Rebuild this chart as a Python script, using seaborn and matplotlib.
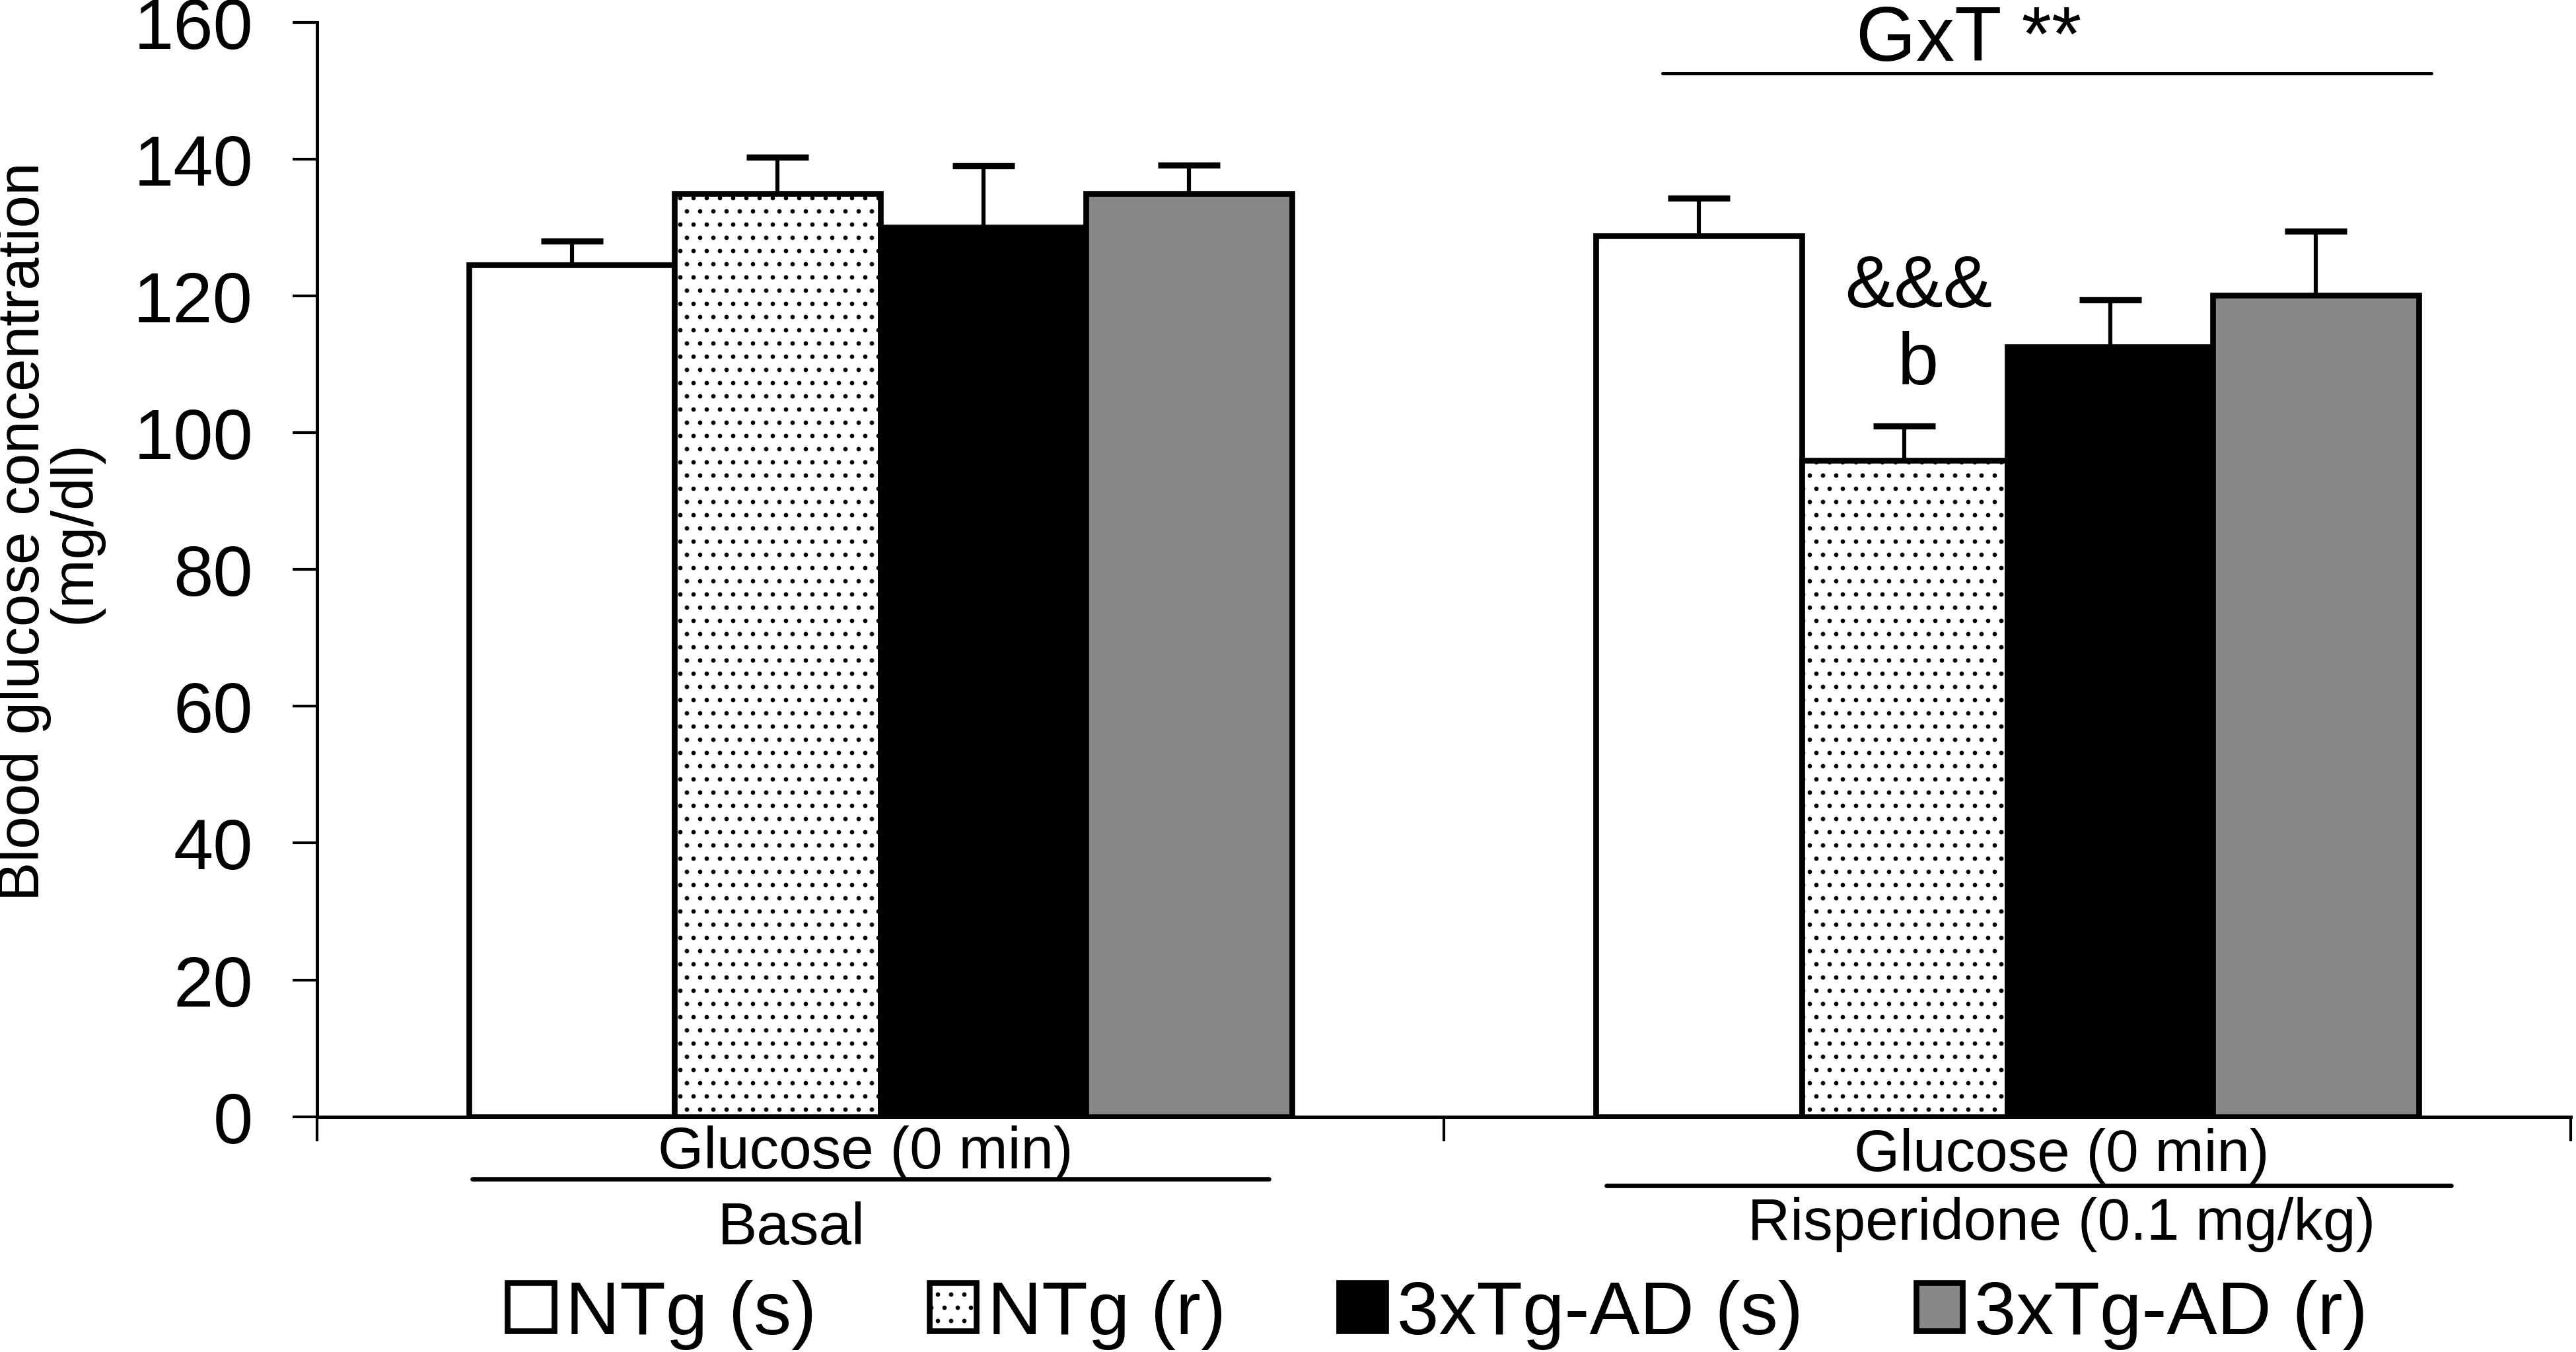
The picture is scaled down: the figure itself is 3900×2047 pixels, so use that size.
#Blood glucose bars, basal vs risperidone, 4 groups
import numpy as np
import pandas as pd
import seaborn as sns
import matplotlib
matplotlib.use("Agg")
import matplotlib.pyplot as plt
import matplotlib.transforms as mtransforms
from matplotlib.patches import Patch

# data
groups = ["Basal", "Risperidone"]
series = ["NTg (s)", "NTg (r)", "3xTg-AD (s)", "3xTg-AD (r)"]
basal_mean = [124.5, 135.0, 130.0, 135.0]
basal_sem = [3.5, 5.3, 9.0, 4.1]
risp_mean = [128.8, 96.0, 112.6, 120.1]
risp_sem = [5.5, 5.0, 6.8, 9.4]

colors = {"NTg (s)": "white", "NTg (r)": "white", "3xTg-AD (s)": "black", "3xTg-AD (r)": "#878787"}
hatches = {"NTg (s)": "", "NTg (r)": "..", "3xTg-AD (s)": "", "3xTg-AD (r)": ""}

df = pd.DataFrame({
    "group": np.repeat(groups, len(series)),
    "series": series * len(groups),
    "value": basal_mean + risp_mean,
    "sem": basal_sem + risp_sem,
})

sns.set_style("ticks", rc={"text.color": "black", "axes.labelcolor": "black",
                           "axes.edgecolor": "black", "xtick.color": "black", "ytick.color": "black"})
plt.rcParams['font.family'] = ['Liberation Sans', 'DejaVu Sans']
plt.rcParams['hatch.linewidth'] = 0.8

fig, ax = plt.subplots(figsize=(16.25, 8.5333), dpi=240)
fig.subplots_adjust(left=0.123, right=0.998, bottom=0.174, top=0.983)

sns.barplot(data=df, x="group", y="value", hue="series", order=groups, hue_order=series,
            palette=colors, errorbar=None, width=0.73, gap=0, saturation=1,
            edgecolor="black", linewidth=2.6, legend=False, ax=ax)

# hatches + one-sided error bars
for cont, name in zip(ax.containers, series):
    sub = df[df.series == name].set_index("group").loc[groups]
    xs = []
    hs = []
    for bar in cont:
        bar.set_hatch(hatches[name])
        xs.append(bar.get_x() + bar.get_width() / 2)
        hs.append(bar.get_height())
    eb = ax.errorbar(xs, hs, yerr=[np.zeros(len(xs)), sub["sem"].values], fmt="none",
                     ecolor="black", elinewidth=1.85, capsize=14, capthick=2.8, zorder=1)
    eb[1][0].set_visible(False)

sns.despine(ax=ax)
for s in ["left", "bottom"]:
    ax.spines[s].set_linewidth(1.5)

ax.set_ylim(0, 160)
ax.set_yticks(range(0, 161, 20))
ax.set_xlim(-0.5, 1.5)
ax.set_xticks([-0.5, 0.5, 1.5])
ax.set_xticklabels([])
ax.set_xlabel("")
ax.tick_params(axis="y", labelsize=32.5, pad=18, length=11, width=1.25)
ax.tick_params(axis="x", length=11, width=1.25)

ax.set_ylabel("Blood glucose concentration\n(mg/dl)", fontsize=26.7, linespacing=0.9)
ax.yaxis.set_label_coords(-0.095, 0.535)

# labels under the axis
trans = mtransforms.blended_transform_factory(ax.transData, ax.transAxes)
ax.text(-0.013, -0.033, "Glucose (0 min)", transform=trans, ha="center", va="center", fontsize=26.7)
ax.plot([-0.362, 0.345], [-0.057, -0.057], transform=trans, color="black", lw=2.0, clip_on=False)
ax.text(-0.079, -0.102, "Basal", transform=trans, ha="center", va="center", fontsize=26.7)

ax.text(1.048, -0.035, "Glucose (0 min)", transform=trans, ha="center", va="center", fontsize=26.7)
ax.plot([0.644, 1.394], [-0.063, -0.063], transform=trans, color="black", lw=2.0, clip_on=False)
ax.text(1.048, -0.098, "Risperidone (0.1 mg/kg)", transform=trans, ha="center", va="center", fontsize=26.7)

# stats marks
ax.text(0.966, 157.4, "GxT **", ha="center", va="center", fontsize=35, clip_on=False)
ax.plot([0.694, 1.376], [152.5, 152.5], color="black", lw=1.5, clip_on=False)
ax.text(0.921, 121.3, "&&&", ha="center", va="center", fontsize=33.5)
ax.text(0.921, 110.0, "b", ha="center", va="center", fontsize=33.5)

handles = [Patch(facecolor=colors[n], edgecolor="black", hatch=hatches[n], linewidth=2.6) for n in series]
fig.legend(handles, series, loc="center", bbox_to_anchor=(0.558, 0.028), ncol=4, frameon=False,
           fontsize=34.2, handlelength=0.62, handleheight=0.6, handletextpad=0.15,
           columnspacing=1.5, borderaxespad=0)

fig.savefig("out.png", dpi=240)
